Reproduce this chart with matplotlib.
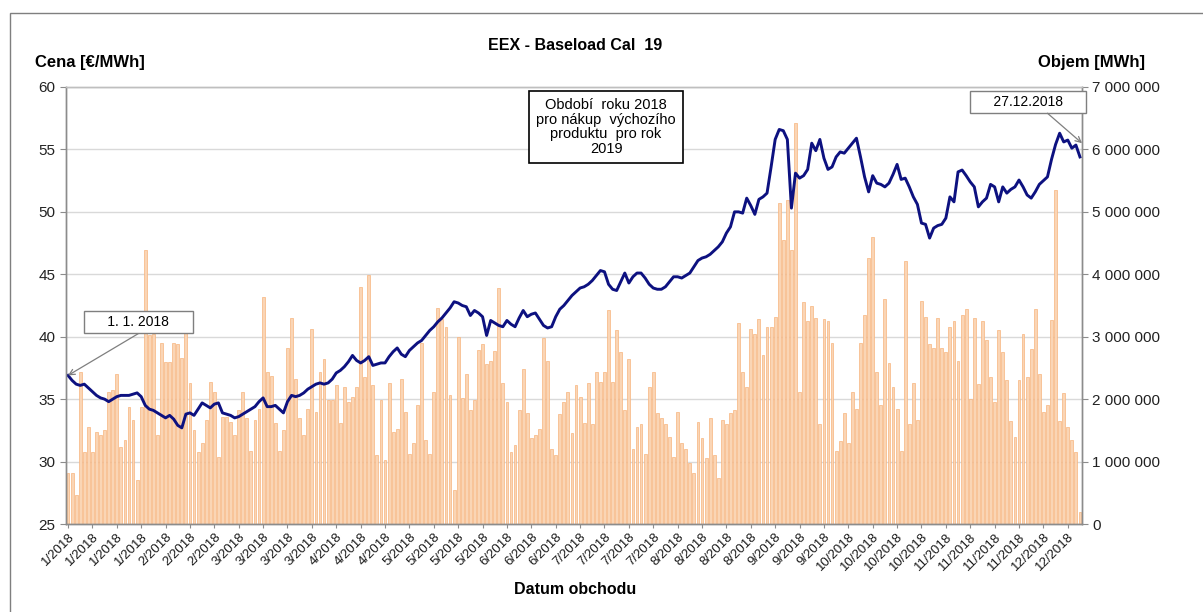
import matplotlib
matplotlib.use('Agg')
import matplotlib.pyplot as plt
from matplotlib.patches import Rectangle
from matplotlib.ticker import FuncFormatter

plt.rcParams['font.family'] = ['Liberation Sans', 'DejaVu Sans']

# cena Cal-19 base [EUR/MWh], jeden obchodni den = jedna hodnota
cena = [
    36.9, 36.5, 36.2, 36.1, 36.2, 35.9, 35.6, 35.3, 35.1, 35.0,
    34.8, 35.0, 35.2, 35.3, 35.3, 35.3, 35.4, 35.5, 35.2, 34.5,
    34.2, 34.1, 33.9, 33.7, 33.5, 33.7, 33.4, 32.9, 32.7, 33.8,
    33.9, 33.7, 34.2, 34.7, 34.5, 34.3, 34.6, 34.7, 33.9, 33.8,
    33.7, 33.5, 33.6, 33.8, 34.0, 34.2, 34.4, 34.8, 35.1, 34.4,
    34.4, 34.5, 34.2, 33.9, 34.8, 35.3, 35.2, 35.3, 35.5, 35.8,
    36.0, 36.2, 36.3, 36.2, 36.3, 36.6, 37.1, 37.3, 37.6, 38.0,
    38.5, 38.1, 37.9, 38.1, 38.4, 37.7, 37.8, 37.9, 37.9, 38.4,
    38.8, 39.1, 38.6, 38.4, 38.9, 39.2, 39.5, 39.7, 40.1, 40.5,
    40.8, 41.2, 41.5, 41.9, 42.3, 42.8, 42.7, 42.5, 42.4, 41.7,
    42.1, 41.9, 41.6, 40.1, 41.3, 41.1, 40.9, 40.8, 41.3, 41.0,
    40.8, 41.5, 42.1, 41.6, 41.8, 41.9, 41.4, 40.9, 40.7, 40.8,
    41.6, 42.2, 42.5, 42.9, 43.3, 43.6, 43.9, 44.0, 44.2, 44.5,
    44.9, 45.3, 45.2, 44.2, 43.8, 43.7, 44.4, 45.1, 44.3, 44.8,
    45.1, 45.1, 44.7, 44.2, 43.9, 43.8, 43.8, 44.0, 44.4, 44.8,
    44.8, 44.7, 44.9, 45.1, 45.6, 46.1, 46.3, 46.4, 46.6, 46.9,
    47.2, 47.6, 48.3, 48.8, 50.0, 50.0, 49.9, 51.1, 50.5, 49.8,
    51.0, 51.2, 51.5, 53.6, 55.8, 56.6, 56.5, 55.8, 50.3, 53.1,
    52.7, 52.9, 53.4, 55.5, 54.9, 55.8, 54.3, 53.4, 53.6, 54.4,
    54.8, 54.7, 55.1, 55.5, 55.9, 54.4, 52.8, 51.6, 52.9, 52.3,
    52.2, 52.0, 52.3, 53.0, 53.8, 52.6, 52.7, 52.0, 51.2, 50.6,
    49.1, 49.0, 47.9, 48.7, 48.9, 49.0, 49.5, 51.2, 50.8, 53.2,
    53.35, 52.9, 52.4, 52.0, 50.4, 50.8, 51.1, 52.2, 52.0, 50.8,
    52.0, 51.5, 51.8, 52.0, 52.55, 52.0, 51.35, 51.1, 51.6, 52.2,
    52.5, 52.8, 54.2, 55.4, 56.3, 55.6, 55.75, 55.1, 55.35, 54.4,
]

# zobchodovany objem [mil. MWh]
objem_mil = [
    0.82, 0.82, 0.46, 2.43, 1.15, 1.55, 1.15, 1.47, 1.42, 1.50,
    2.11, 2.14, 2.41, 1.24, 1.35, 1.88, 1.67, 0.70, 1.88, 4.39,
    3.03, 3.05, 1.42, 2.90, 2.60, 2.60, 2.90, 2.88, 2.66, 3.14,
    2.26, 1.50, 1.15, 1.30, 1.67, 2.28, 2.11, 1.07, 1.72, 1.72,
    1.64, 1.42, 1.83, 2.11, 1.69, 1.17, 1.67, 1.85, 3.64, 2.44,
    2.37, 1.62, 1.17, 1.50, 2.82, 3.30, 2.32, 1.69, 1.42, 1.85,
    3.12, 1.80, 2.44, 2.64, 1.99, 1.99, 2.23, 1.62, 2.20, 1.95,
    2.04, 2.20, 3.80,
    2.35, 3.99, 2.23, 1.10, 1.99, 1.02, 2.26, 1.47, 1.52, 2.32,
    1.80, 1.12, 1.30, 1.90, 2.90, 1.35, 1.12, 2.11, 3.46, 3.28,
    3.16, 2.06, 0.54, 3.00, 2.02, 2.40, 1.83, 1.99, 2.79, 2.88,
    2.56, 2.61, 2.77, 3.78, 2.26, 1.95, 1.15, 1.27, 1.83, 2.48,
    1.78, 1.38, 1.42, 1.52, 2.98, 2.61, 1.20, 1.10, 1.76, 1.95,
    2.11, 1.46, 2.23, 2.04, 1.62, 2.26, 1.60, 2.43, 2.28, 2.43,
    3.43, 2.28, 3.10, 2.75, 1.83, 2.64, 1.20, 1.55, 1.60, 1.12,
    2.20, 2.44, 1.78,
    1.69, 1.60, 1.40, 1.07, 1.80, 1.30, 1.20, 0.98, 0.82, 1.64,
    1.38, 1.05, 1.69, 1.10, 0.74, 1.67, 1.60, 1.78, 1.83, 3.22,
    2.44, 2.20, 3.12, 3.04, 3.28, 2.70, 3.16, 3.16, 3.32, 5.14,
    4.55, 5.19, 4.39, 6.42, 2.11, 3.55, 3.25, 3.50, 3.30, 1.60,
    3.28, 3.25, 2.90, 1.17, 1.33, 1.78, 1.30, 2.11, 1.85, 2.90,
    3.35, 4.26, 4.60, 2.44, 1.90, 3.60, 2.58, 2.20, 1.85, 1.17,
    4.21, 1.60, 2.26, 1.67, 3.57, 3.31, 2.88, 2.82, 3.30, 2.82,
    2.75, 3.16, 3.25, 2.61, 3.35,
    3.45, 2.00, 3.30, 2.25, 3.25, 2.95, 2.35, 1.95, 3.10, 2.75,
    2.30, 1.65, 1.40, 2.30, 3.05, 2.35, 2.80, 3.45, 2.40, 1.80,
    1.90, 3.27, 5.35, 1.65, 2.10, 1.55, 1.35, 1.15, 0.20,
]
objem = [v * 1e6 for v in objem_mil]

# popisky osy x - mesic u kazdeho 6. obchodniho dne
mesice_popisku = [1]*4 + [2]*3 + [3]*4 + [4]*3 + [5]*4 + [6]*3 + [7]*4 + [8]*4 + [9]*3 + [10]*4 + [11]*4 + [12]*2
krok_popisku = 6

n = len(cena)
x = list(range(n))

fig = plt.figure(figsize=(12.03, 6.12), dpi=100)
fig.patches.append(Rectangle((10/1203, -0.02), 1.05, 1 - 13/612 + 0.02, transform=fig.transFigure,
                             fill=False, edgecolor='#7f7f7f', linewidth=1.0))

ax = fig.add_axes([66/1203, 1 - 524/612, 1016/1203, 437/612])
ax2 = ax.twinx()

# objem - sloupce na prave ose
ax2.bar(x, objem, width=0.7, color='#FAD5B5', edgecolor='#F7B47E', linewidth=0.5)
ax2.set_ylim(0, 7e6)
ax2.set_yticks([i * 1e6 for i in range(8)])
ax2.yaxis.set_major_formatter(FuncFormatter(lambda v, p: f'{int(v):,}'.replace(',', ' ')))
ax2.grid(axis='y', color='#d9d9d9', linewidth=1.0)
ax2.set_axisbelow(True)

# cena - cara na leve ose, nad sloupci
ax.set_zorder(ax2.get_zorder() + 1)
ax.patch.set_visible(False)
ax.plot(x, cena, color='#0D1180', linewidth=2.1, solid_joinstyle='round')
ax.set_ylim(25, 60)
ax.set_yticks(range(25, 61, 5))
ax.set_xlim(-0.5, n - 0.5)

tick_pos = list(range(0, n, krok_popisku))[:len(mesice_popisku)]
ax.set_xticks(tick_pos)
ax.set_xticklabels([f'{m}/2018' for m in mesice_popisku], rotation=45, ha='right',
                   rotation_mode='anchor', fontsize=9.5, color='#1a1a1a')

for a in (ax, ax2):
    for s in a.spines.values():
        s.set_color('#8c8c8c')
        s.set_linewidth(1.0)
    a.tick_params(axis='y', labelsize=11, colors='#222222', length=4, color='#8c8c8c')
ax.spines['top'].set_color('#bfbfbf')
ax2.spines['top'].set_color('#bfbfbf')
ax.tick_params(axis='x', length=3, color='#8c8c8c', pad=2)

# texty
fig.text(575/1203, 1 - 45/612, 'EEX - Baseload Cal  19', ha='center', va='center',
         fontsize=11.5, fontweight='bold')
fig.text(35/1203, 1 - 62/612, 'Cena [€/MWh]', ha='left', va='center', fontsize=12, fontweight='bold')
fig.text(1145/1203, 1 - 62/612, 'Objem [MWh]', ha='right', va='center', fontsize=12, fontweight='bold')
fig.text(575/1203, 1 - 589/612, 'Datum obchodu', ha='center', va='center', fontsize=11.5, fontweight='bold')

ax.text(132.4, 56.8, 'Období  roku 2018\npro nákup  výchozího\nproduktu  pro rok\n2019',
        ha='center', va='center', fontsize=10.5, linespacing=1.05,
        bbox=dict(boxstyle='square,pad=0.5', facecolor='white', edgecolor='black', linewidth=1.2))

ax.text(17.3, 41.2, '     1. 1. 2018     ', ha='center', va='center', fontsize=10,
        bbox=dict(boxstyle='square,pad=0.3', facecolor='white', edgecolor='#7f7f7f', linewidth=1.0))
ax.annotate('', xy=(0, cena[0]), xytext=(17.3, 40.25),
            arrowprops=dict(arrowstyle='->', color='#7f7f7f', lw=0.9, shrinkA=0, shrinkB=0))

ax.text(236.2, 58.8, '     27.12.2018     ', ha='center', va='center', fontsize=10,
        bbox=dict(boxstyle='square,pad=0.3', facecolor='white', edgecolor='#7f7f7f', linewidth=1.0))
ax.annotate('', xy=(n - 0.5, 55.5), xytext=(241.0, 57.9),
            arrowprops=dict(arrowstyle='->', color='#7f7f7f', lw=0.9, shrinkA=0, shrinkB=0))

fig.savefig('out.png', dpi=100)
